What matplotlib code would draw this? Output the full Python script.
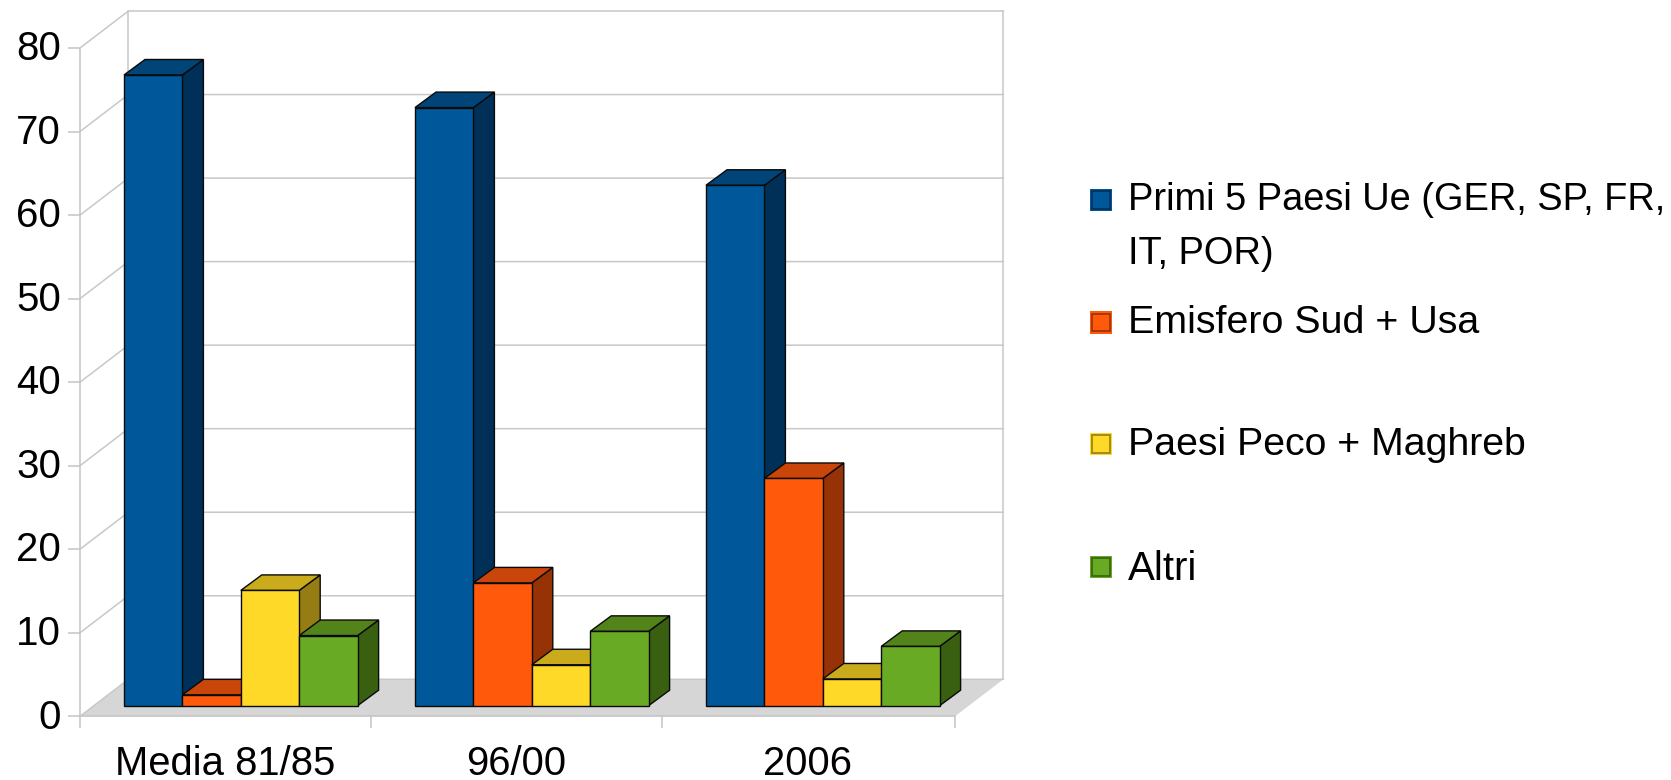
import matplotlib
matplotlib.use('Agg')
import matplotlib.pyplot as plt
from matplotlib.patches import Polygon, Rectangle
from matplotlib.transforms import ScaledTranslation

plt.rcParams['font.family'] = ['Liberation Sans', 'DejaVu Sans']

categories = ['Media 81/85', '96/00', '2006']
series_names = ['Primi 5 Paesi Ue (GER, SP, FR,\nIT, POR)', 'Emisfero Sud + Usa',
                'Paesi Peco + Maghreb', 'Altri']
primi5 = [75.5, 71.6, 62.3]
emisfero = [1.3, 14.7, 27.2]
peco = [13.8, 4.9, 3.2]
altri = [8.4, 8.9, 7.1]
yticks = [0, 10, 20, 30, 40, 50, 60, 70, 80]

# front, top, side
colors = [('#00589a', '#004478', '#003058'),
          ('#ff5a0c', '#c9450a', '#963206'),
          ('#ffd928', '#c9ab1c', '#957d14'),
          ('#69aa24', '#53841b', '#386010')]

W, H = 1671, 780
# front plane of the chart in pixels
X0, X1, Y0, Y80 = 80, 955, 716.3, 48
PX_CAT = 291
PX_VAL = (Y0 - Y80) / 80
XMAX = (X1 - X0) / PX_CAT

GREY = '#c8c8c8'

fig = plt.figure(figsize=(W / 100, H / 100), dpi=100)
ax = fig.add_axes([X0 / W, 1 - Y0 / H, (X1 - X0) / W, (Y0 - Y80) / H])
ax.set_xlim(0, XMAX)
ax.set_ylim(0, 80)
ax.patch.set_visible(False)
ax.set_axisbelow(True)
for s in ['top', 'right']:
    ax.spines[s].set_visible(False)
for s in ['left', 'bottom']:
    ax.spines[s].set_color('#c4c4c4')
    ax.spines[s].set_linewidth(1.1)

ax.set_yticks(yticks)
ax.tick_params(axis='y', length=8.6, width=1.1, color='#c4c4c4', labelsize=29, pad=5)
# labels sit a little above their ticks
for lab in ax.get_yticklabels():
    lab.set_transform(lab.get_transform() + ScaledTranslation(0, 2 / 72, fig.dpi_scale_trans))
ax.set_xticks([0, 1, 2, XMAX])
ax.set_xticklabels([])
ax.tick_params(axis='x', which='major', length=8.6, width=1.1, color='#c4c4c4')
ax.set_xticks([0.5, 1.5, 2.5], minor=True)
ax.set_xticklabels(categories, minor=True)
ax.tick_params(axis='x', which='minor', length=0, labelsize=28.8, pad=21)

# walls and floor
wall_dx = 48.4 / PX_CAT
wall_dy = 37 / PX_VAL
ax.add_patch(Polygon([(0, 0), (XMAX, 0), (XMAX + wall_dx, wall_dy), (wall_dx, wall_dy)],
                     closed=True, fc='#d6d6d6', ec='none', zorder=0.2, clip_on=False))
for v in yticks:
    ax.plot([0, wall_dx, XMAX + wall_dx], [v, v + wall_dy, v + wall_dy], color=GREY,
            lw=1.1, zorder=0.3, clip_on=False)
for xv in [wall_dx, XMAX + wall_dx]:
    ax.plot([xv, xv], [wall_dy, 80 + wall_dy], color=GREY, lw=1.1, zorder=0.3, clip_on=False)

# bars
group_left = 44 / PX_CAT
bar_w = 58.4 / PX_CAT
bar_base = 10.6 / PX_VAL
depth_dx = 21 / PX_CAT
depth_dy = 15.5 / PX_VAL

z = 3
for i in range(len(categories)):
    vals = [primi5[i], emisfero[i], peco[i], altri[i]]
    for j, v in enumerate(vals):
        left = i + group_left + j * bar_w
        right = left + bar_w
        top = bar_base + v
        front, topc, side = colors[j]
        side_poly = [(right, bar_base), (right + depth_dx, bar_base + depth_dy),
                     (right + depth_dx, top + depth_dy), (right, top)]
        top_poly = [(left, top), (left + depth_dx, top + depth_dy),
                    (right + depth_dx, top + depth_dy), (right, top)]
        front_poly = [(left, bar_base), (right, bar_base), (right, top), (left, top)]
        for pts, c in [(side_poly, side), (top_poly, topc), (front_poly, front)]:
            ax.add_patch(Polygon(pts, closed=True, fc=c, ec='#0a0a0a', lw=1.0,
                                 joinstyle='miter', zorder=z, clip_on=False))
            z += 0.01

# legend, in pixel coordinates of the figure
lax = fig.add_axes([0, 0, 1, 1])
lax.set_xlim(0, W)
lax.set_ylim(H, 0)
lax.axis('off')
leg_y = [200, 322.3, 444, 567]
text_y = [200.2, 323.2, 445.2, 568.7]
leg_size = [27.4, 28.4, 28.3, 29]
for k, name in enumerate(series_names):
    front, topc, side = colors[k]
    lax.add_patch(Rectangle((1089.5, leg_y[k] - 11.3), 22.6, 22.6, fc=front, ec='none'))
    lax.add_patch(Rectangle((1092, leg_y[k] - 8.8), 17.6, 17.6, fc=front, ec=side, lw=1.2))
    for n, line in enumerate(name.split('\n')):
        lax.text(1127.5, text_y[k] + n * 53.5, line, fontsize=leg_size[k], va='center',
                 ha='left', color='#000000')

fig.savefig('out.png', dpi=100)
